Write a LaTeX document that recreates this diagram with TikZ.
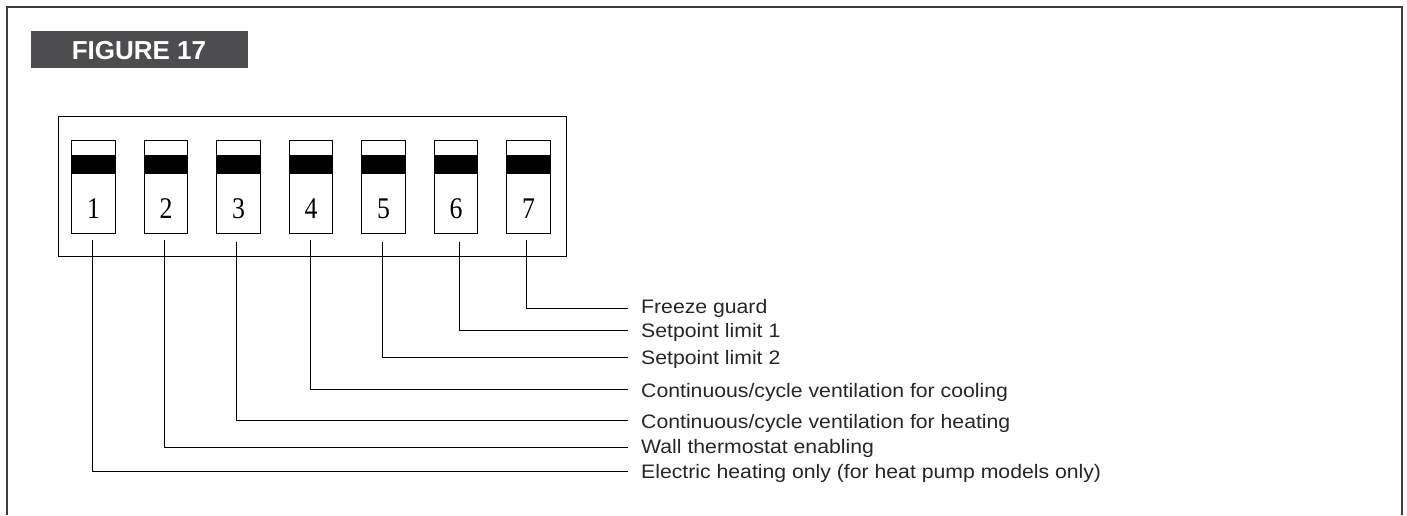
\documentclass[tikz,border=0pt]{standalone}
\usepackage{fontspec}
\setmainfont{Liberation Sans}
\newfontfamily\lblfont[FakeStretch=1.088]{Liberation Sans}
\newfontfamily\numfont[FakeStretch=0.86]{Liberation Serif}
\definecolor{hdrgray}{RGB}{77,77,79}
\definecolor{framegray}{RGB}{60,60,60}
\tikzset{
  frameline/.style={draw=framegray, line width=1.7pt},
  hdrbox/.style={fill=hdrgray, draw=none, minimum width=217pt, minimum height=37pt, inner sep=0pt},
  hdrtext/.style={text=white, inner sep=0pt, font=\fontsize{26}{26}\selectfont\bfseries},
  dipbox/.style={draw=black, line width=1.2pt, minimum width=508pt, minimum height=140pt, inner sep=0pt, anchor=north west},
  switchbox/.style={draw=black, line width=1.2pt, minimum width=43.6pt, minimum height=93pt, inner sep=0pt},
  numtext/.style={inner sep=0pt, anchor=base, font=\numfont\fontsize{30}{30}\selectfont},
  leader/.style={draw=black, line width=1.1pt},
  lbltext/.style={inner sep=0pt, anchor=base west, text=black!85, font=\lblfont\fontsize{19.5}{19.5}\selectfont}
}
\begin{document}
\begin{tikzpicture}[x=1pt,y=-1pt]
\useasboundingbox (0,0) rectangle (1407,515);
\fill[white] (0,0) rectangle (1407,515);
% outer frame (open at bottom)
\draw[frameline] (7,515) -- (7,7) -- (1401.7,7) -- (1401.7,515);
% header
\node[hdrbox] (hdr) at (139.5,49.5) {};
\node[hdrtext, anchor=base] (hdrtxt) at (139,59.3) {FIGURE 17};
% DIP switch housing
\node[dipbox] (dip) at (58,116) {};
% switches
\foreach \i in {1,...,7}{
  \pgfmathsetmacro{\cx}{93.5+72.5*(\i-1)}
  \node[switchbox] (s\i) at (\cx,186.8) {};
  \fill[black] ([yshift=-15pt]s\i.north west) rectangle ([yshift=-34.7pt]s\i.north east);
  \node[numtext] (n\i) at (\cx,218.5) {\i};
}
% leader line tops
\coordinate (t1) at (92.5,240);
\coordinate (t2) at (164.5,240);
\coordinate (t3) at (236.5,241.5);
\coordinate (t4) at (310.5,240);
\coordinate (t5) at (382.5,241.5);
\coordinate (t6) at (459.5,241.5);
\coordinate (t7) at (526.5,240);
% leader line ends
\coordinate (e1) at (628.3,471.5);
\coordinate (e2) at (628.3,447.5);
\coordinate (e3) at (628.3,420.5);
\coordinate (e4) at (628.3,389.5);
\coordinate (e5) at (628.3,357.5);
\coordinate (e6) at (628.3,330.5);
\coordinate (e7) at (628.3,308.5);
\foreach \i in {1,...,7}{
  \draw[leader] (t\i) |- (e\i);
}
% labels
\node[lbltext] (l7) at (641,313.5) {Freeze guard};
\node[lbltext] (l6) at (641,337) {Setpoint limit 1};
\node[lbltext] (l5) at (641,364) {Setpoint limit 2};
\node[lbltext] (l4) at (641,397.5) {Continuous/cycle ventilation for cooling};
\node[lbltext] (l3) at (641,428.5) {Continuous/cycle ventilation for heating};
\node[lbltext] (l2) at (641,453) {Wall thermostat enabling};
\node[lbltext] (l1) at (641,478.5) {Electric heating only (for heat pump models only)};
\end{tikzpicture}
\end{document}
